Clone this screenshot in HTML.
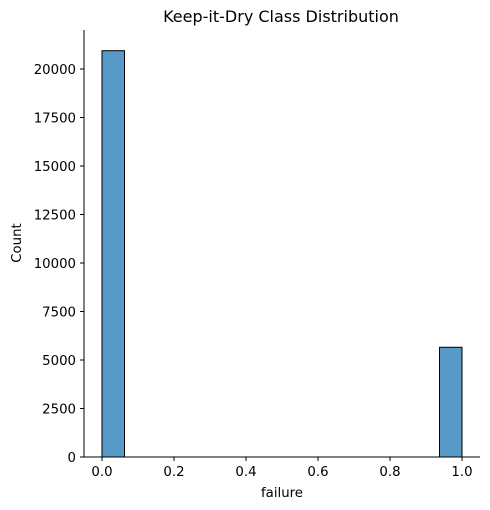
<!DOCTYPE html>
<html><head><meta charset="utf-8"><style>body{margin:0;background:#fff}svg{display:block;font-family:"DejaVu Sans","Liberation Sans",sans-serif}</style></head>
<body>
<svg id="c" width="490" height="510"></svg>
<script>
const binLefts=[0,0.9375];
const counts=[20944,5655];
const binWidth=0.0625;
const yTicks=[0,2500,5000,7500,10000,12500,15000,17500,20000];
const xTicks=[0,0.2,0.4,0.6,0.8,1.0];
const NS="http://www.w3.org/2000/svg";
const svg=document.getElementById('c');
const X=v=>84+(v+0.05)*360, Y=v=>457-v*388/20000;
function mk(t,a,p){const e=document.createElementNS(NS,t);for(const k in a)e.setAttribute(k,a[k]);(p||svg).appendChild(e);return e;}
binLefts.forEach((b,i)=>{const r=mk('rect',{x:X(b),y:Y(counts[i]),width:X(b+binWidth)-X(b),height:Y(0)-Y(counts[i]),fill:'#5799c7',stroke:'#000','stroke-width':1});

});
const l1=mk('line',{x1:84,y1:Y(0),x2:84,y2:30,stroke:'#000','stroke-width':1});


const l2=mk('line',{x1:84,y1:Y(0),x2:480,y2:Y(0),stroke:'#000','stroke-width':1});


yTicks.forEach(v=>{mk('line',{x1:80,x2:84,y1:Y(v),y2:Y(v),stroke:'#000'});
const t=mk('text',{x:76,y:Y(v)+5,'text-anchor':'end','font-size':13.3});t.textContent=v;

});
xTicks.forEach(v=>{mk('line',{x1:X(v),x2:X(v),y1:457,y2:461,stroke:'#000'});
const t=mk('text',{x:X(v),y:476,'text-anchor':'middle','font-size':13.3});t.textContent=v.toFixed(1);

});
const xt=mk('text',{x:282,y:497,'text-anchor':'middle','font-size':13.3});xt.textContent='failure';


const yt=mk('text',{x:21,y:243,'text-anchor':'middle','font-size':13.3,transform:'rotate(-90 21 243)'});yt.textContent='Count';


const tt=mk('text',{x:281,y:22,'text-anchor':'middle','font-size':16});tt.textContent='Keep-it-Dry Class Distribution';


</script>
</body></html>
